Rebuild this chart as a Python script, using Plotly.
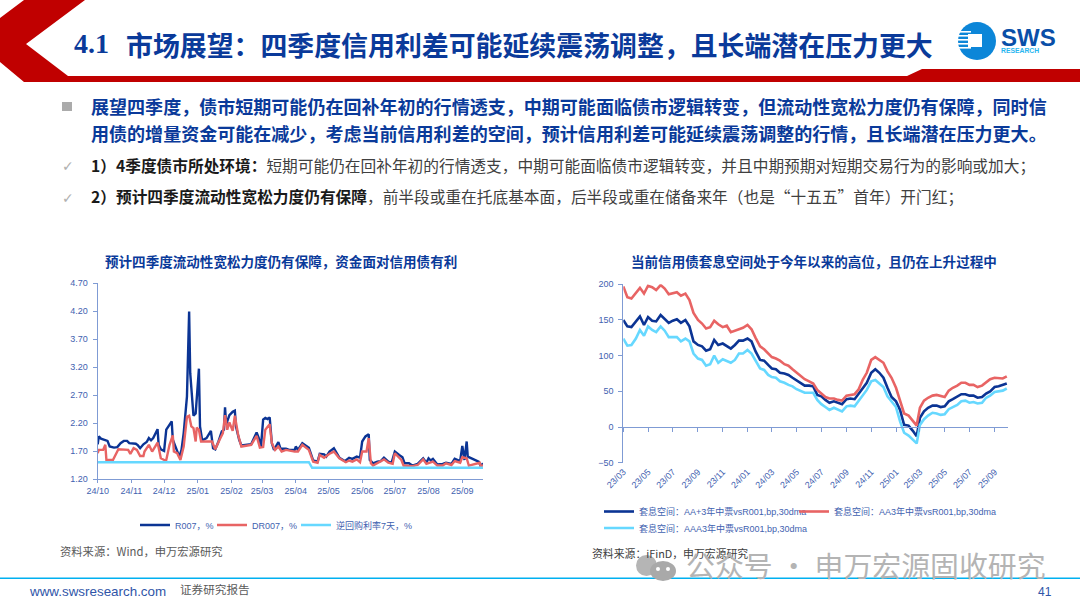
import plotly.graph_objects as go

# ---------- left chart data ----------
R007_DATES = ["2024-10-01","2024-10-02","2024-10-04","2024-10-08","2024-10-10","2024-10-12","2024-10-16","2024-10-19","2024-10-22","2024-10-25","2024-10-28","2024-10-30","2024-11-02","2024-11-05","2024-11-07","2024-11-09","2024-11-12","2024-11-15","2024-11-17","2024-11-19","2024-11-21","2024-11-23","2024-11-25","2024-11-26","2024-11-28","2024-12-01","2024-12-03","2024-12-05","2024-12-08","2024-12-09","2024-12-11","2024-12-13","2024-12-15","2024-12-17","2024-12-19","2024-12-22","2024-12-24","2024-12-25","2024-12-28","2024-12-30","2025-01-02","2025-01-03","2025-01-05","2025-01-09","2025-01-13","2025-01-15","2025-01-17","2025-01-20","2025-01-23","2025-01-25","2025-01-26","2025-01-27","2025-01-30","2025-02-02","2025-02-04","2025-02-05","2025-02-08","2025-02-10","2025-02-19","2025-02-24","2025-02-26","2025-02-28","2025-03-02","2025-03-04","2025-03-06","2025-03-08","2025-03-10","2025-03-12","2025-03-16","2025-03-18","2025-03-23","2025-03-26","2025-03-31","2025-04-01","2025-04-03","2025-04-07","2025-04-13","2025-04-17","2025-04-21","2025-04-23","2025-04-27","2025-04-29","2025-05-02","2025-05-06","2025-05-11","2025-05-16","2025-05-20","2025-05-23","2025-05-27","2025-05-30","2025-06-01","2025-06-04","2025-06-07","2025-06-08","2025-06-11","2025-06-15","2025-06-18","2025-06-21","2025-06-25","2025-06-28","2025-07-01","2025-07-05","2025-07-08","2025-07-10","2025-07-14","2025-07-17","2025-07-22","2025-07-27","2025-07-30","2025-08-01","2025-08-03","2025-08-05","2025-08-09","2025-08-14","2025-08-17","2025-08-22","2025-08-25","2025-08-30","2025-09-01","2025-09-03","2025-09-05","2025-09-06","2025-09-16","2025-09-18","2025-09-20"]
R007_VALUES = [1.82,1.96,1.92,1.89,1.88,1.78,1.76,1.77,1.84,1.88,1.88,1.84,1.84,1.83,1.80,1.75,1.82,1.86,1.93,1.89,1.93,2.00,2.09,1.81,1.73,1.70,2.08,2.14,2.23,1.90,1.81,1.69,1.60,1.72,2.02,2.67,4.19,3.09,2.33,2.37,3.17,2.14,1.89,1.93,2.06,1.75,1.73,1.87,2.05,2.08,2.48,2.17,2.34,2.40,2.42,2.14,1.90,1.80,1.82,2.03,1.93,1.77,2.26,2.29,2.27,2.30,1.84,1.72,1.86,1.74,1.74,1.72,1.72,1.78,1.72,1.84,1.76,1.53,1.51,1.65,1.64,1.60,1.69,1.75,1.58,1.52,1.58,1.56,1.60,1.58,1.87,1.96,2.00,1.54,1.48,1.51,1.52,1.58,1.51,1.49,1.69,1.63,1.59,1.48,1.48,1.44,1.47,1.57,1.49,1.57,1.53,1.56,1.46,1.47,1.49,1.47,1.56,1.52,1.79,1.54,1.87,1.60,1.51,1.43,1.48]

DR007_DATES = ["2024-10-01","2024-10-02","2024-10-06","2024-10-08","2024-10-09","2024-10-15","2024-10-20","2024-10-29","2024-10-31","2024-11-03","2024-11-06","2024-11-09","2024-11-12","2024-11-13","2024-11-17","2024-11-20","2024-11-25","2024-11-28","2024-12-02","2024-12-03","2024-12-06","2024-12-09","2024-12-10","2024-12-13","2024-12-16","2024-12-19","2024-12-22","2024-12-24","2024-12-26","2024-12-28","2024-12-30","2024-12-31","2025-01-02","2025-01-04","2025-01-14","2025-01-17","2025-01-21","2025-01-24","2025-01-26","2025-01-28","2025-01-30","2025-02-02","2025-02-04","2025-02-07","2025-02-10","2025-02-19","2025-02-24","2025-02-27","2025-03-02","2025-03-04","2025-03-08","2025-03-10","2025-03-13","2025-03-16","2025-03-19","2025-03-23","2025-03-31","2025-04-03","2025-04-07","2025-04-13","2025-04-17","2025-04-21","2025-04-23","2025-04-27","2025-05-02","2025-05-06","2025-05-11","2025-05-17","2025-05-20","2025-05-23","2025-05-27","2025-05-30","2025-06-01","2025-06-05","2025-06-07","2025-06-09","2025-06-11","2025-06-15","2025-06-21","2025-06-25","2025-06-29","2025-07-01","2025-07-07","2025-07-09","2025-07-17","2025-07-22","2025-07-27","2025-07-30","2025-08-05","2025-08-09","2025-08-14","2025-08-17","2025-08-22","2025-08-25","2025-08-30","2025-09-01","2025-09-05","2025-09-07","2025-09-17","2025-09-18","2025-09-20"]
DR007_VALUES = [1.66,1.72,1.72,1.81,1.54,1.54,1.73,1.72,1.65,1.75,1.72,1.61,1.61,1.69,1.81,1.69,1.85,1.57,1.53,1.54,1.81,1.98,1.69,1.66,1.54,1.78,2.31,2.33,2.14,2.11,1.87,2.12,2.08,1.87,1.87,1.73,1.90,2.02,2.34,2.08,2.21,2.06,2.33,1.99,1.78,1.81,1.97,1.76,1.77,2.08,2.18,1.84,1.72,1.78,1.69,1.72,1.69,1.69,1.81,1.72,1.51,1.49,1.63,1.58,1.65,1.69,1.57,1.50,1.53,1.51,1.55,1.50,1.69,1.69,1.93,1.48,1.44,1.48,1.55,1.49,1.47,1.66,1.54,1.44,1.43,1.45,1.55,1.47,1.51,1.44,1.44,1.48,1.45,1.52,1.49,1.59,1.57,1.44,1.49,1.42,1.45]

REPO_DATES = ["2024-10-01","2025-04-13","2025-04-16","2025-09-20"]
REPO_VALUES = [1.50,1.50,1.40,1.40]

# ---------- right chart data ----------
SPREAD_DATES = ["2023-03-01","2023-03-11","2023-03-21","2023-04-01","2023-04-11","2023-04-21","2023-05-01","2023-05-11","2023-05-21","2023-06-01","2023-06-11","2023-06-21","2023-07-01","2023-07-11","2023-07-21","2023-08-01","2023-08-11","2023-08-21","2023-09-01","2023-09-11","2023-09-21","2023-10-01","2023-10-11","2023-10-21","2023-11-01","2023-11-11","2023-11-21","2023-12-01","2023-12-11","2023-12-21","2024-01-01","2024-01-11","2024-01-21","2024-02-01","2024-02-11","2024-02-21","2024-03-01","2024-03-11","2024-03-21","2024-04-01","2024-04-11","2024-04-21","2024-05-01","2024-05-11","2024-05-21","2024-06-01","2024-06-11","2024-06-21","2024-07-01","2024-07-11","2024-07-21","2024-08-01","2024-08-11","2024-08-21","2024-09-01","2024-09-11","2024-09-21","2024-10-01","2024-10-11","2024-10-21","2024-11-01","2024-11-11","2024-11-21","2024-12-01","2024-12-11","2024-12-21","2025-01-01","2025-01-11","2025-01-21","2025-02-01","2025-02-11","2025-02-21","2025-03-01","2025-03-11","2025-03-21","2025-04-01","2025-04-11","2025-04-21","2025-05-01","2025-05-11","2025-05-21","2025-06-01","2025-06-11","2025-06-21","2025-07-01","2025-07-11","2025-07-21","2025-08-01","2025-08-11","2025-08-21","2025-09-01","2025-09-11","2025-09-21","2025-10-01"]
AA_PLUS_VALUES = [150,141,140,148,155,143,154,149,148,157,152,146,149,151,146,150,141,120,115,113,107,109,122,115,117,114,110,115,121,121,124,120,106,94,93,87,82,81,76,75,73,69,65,62,58,58,57,45,43,38,34,36,34,32,39,40,39,47,55,62,76,81,76,69,55,42,36,24,3,2,-5,-13,13,22,27,30,30,28,29,36,39,43,46,46,44,44,41,42,47,50,56,57,59,61]
AA_VALUES = [197,182,180,188,195,187,198,196,192,199,194,186,187,189,184,187,178,160,150,145,138,140,149,144,140,142,133,135,138,139,143,137,125,113,109,103,98,96,93,88,86,81,76,72,67,64,61,52,47,42,40,40,38,37,44,45,46,53,66,76,94,98,94,90,78,69,55,36,19,16,9,2,27,37,41,44,45,43,42,51,55,58,62,62,59,59,56,58,62,67,69,68,68,71]
AAA_VALUES = [124,114,115,124,136,128,141,136,133,141,135,126,126,126,120,124,120,103,96,94,86,88,100,90,95,92,90,94,103,103,108,103,92,82,80,73,70,69,64,62,59,57,53,51,48,48,48,38,32,28,24,27,25,22,29,30,29,37,44,52,64,66,61,56,43,36,28,8,-8,-12,-18,-23,3,11,16,20,19,17,18,25,28,31,36,37,34,35,33,34,41,44,49,50,51,54]

Y_TICKS_LEFT = [1.2, 1.7, 2.2, 2.7, 3.2, 3.7, 4.2, 4.7]
Y_TICKS_RIGHT = [-50, 0, 50, 100, 150, 200]

BLUE = "#0a3a9a"
NAVY = "#0b3494"
RED = "#e86464"
CYAN = "#66d8ff"
TICK = "#3f62b0"
AXIS = "#7f9bd4"
W, H = 1080, 608


def px(x):
    return x / W


def py(y):
    return 1 - y / H


fig = go.Figure()
fig.add_trace(go.Scatter(x=R007_DATES, y=R007_VALUES, name="R007，%", mode="lines",
                         line=dict(color=NAVY, width=2.4), xaxis="x", yaxis="y", legend="legend"))
fig.add_trace(go.Scatter(x=DR007_DATES, y=DR007_VALUES, name="DR007，%", mode="lines",
                         line=dict(color=RED, width=2.4), xaxis="x", yaxis="y", legend="legend2"))
fig.add_trace(go.Scatter(x=REPO_DATES, y=REPO_VALUES, name="逆回购利率7天，%", mode="lines",
                         line=dict(color=CYAN, width=2.4), xaxis="x", yaxis="y", legend="legend3"))
fig.add_trace(go.Scatter(x=SPREAD_DATES, y=AA_PLUS_VALUES, name="套息空间：AA+3年中票vsR001,bp,30dma", mode="lines",
                         line=dict(color=NAVY, width=2.6), xaxis="x2", yaxis="y2", legend="legend4"))
fig.add_trace(go.Scatter(x=SPREAD_DATES, y=AA_VALUES, name="套息空间：AA3年中票vsR001,bp,30dma", mode="lines",
                         line=dict(color=RED, width=2.6), xaxis="x2", yaxis="y2", legend="legend5"))
fig.add_trace(go.Scatter(x=SPREAD_DATES, y=AAA_VALUES, name="套息空间：AAA3年中票vsR001,bp,30dma", mode="lines",
                         line=dict(color=CYAN, width=2.6), xaxis="x2", yaxis="y2", legend="legend6"))

FONT = "Noto Sans CJK SC"
tickfont = dict(family="Liberation Sans, Noto Sans CJK SC", size=9, color=TICK)
legendfont = dict(family="Liberation Sans, Noto Sans CJK SC", size=9, color=TICK)

shapes = []


def poly(points, color):
    path = "M " + " L ".join(f"{px(a)} {py(b)}" for a, b in points) + " Z"
    shapes.append(dict(type="path", xref="paper", yref="paper", path=path,
                       fillcolor=color, line=dict(width=0), layer="below"))


def rect(x0, y0, x1, y1, color):
    shapes.append(dict(type="rect", xref="paper", yref="paper", x0=px(x0), x1=px(x1),
                       y0=py(y1), y1=py(y0), fillcolor=color, line=dict(width=0), layer="below"))


def circle(x0, y0, x1, y1, color):
    shapes.append(dict(type="circle", xref="paper", yref="paper", x0=px(x0), x1=px(x1),
                       y0=py(y1), y1=py(y0), fillcolor=color, line=dict(width=0), layer="below"))


# banner
poly([(24, 0), (85, 0), (26, 44), (68, 76), (907, 76), (922, 69), (1080, 69), (1080, 82),
      (24, 82), (0, 62), (0, 18)], "#c00000")
# logo
circle(958, 22, 996, 60, "#0c86d8")
rect(968, 34, 982, 47, "#ffffff")
for yy in (31, 35, 39, 43, 47):
    rect(957, yy, 971, yy + 1.6, "#ffffff")
# bullet + footer rule
rect(62, 102, 72, 111, "#ababab")
rect(0, 577.5, 1080, 579, "#00b0f0")
# watermark icon
circle(636, 555, 657, 576, "#b5b5b5")
circle(650, 561, 676, 581, "#a9a9a9")
circle(656, 567, 660, 571, "#ffffff")
circle(666, 567, 670, 571, "#ffffff")

ann = []


def text(x, y, s, size, color, anchor="left", family=FONT):
    ann.append(dict(xref="paper", yref="paper", x=px(x), y=py(y), text=s, showarrow=False,
                    xanchor=anchor, yanchor="middle", borderpad=0, borderwidth=0,
                    font=dict(family=family, size=size, color=color)))


text(74, 43, "<b>4.1</b>", 28, BLUE, family="Liberation Serif")
text(126, 44, "<b>市场展望：四季度信用利差可能延续震荡调整，且长端潜在压力更大</b>", 26.9, BLUE)
text(1001, 37.5, "<b>SWS</b>", 24, "#0a4fa8", family="Liberation Sans")
text(1001, 51, "<b>RESEARCH</b>", 6.8, "#29b6ef", family="Liberation Sans")
text(90.7, 105.5, "<b>展望四季度，债市短期可能仍在回补年初的行情透支，中期可能面临债市逻辑转变，但流动性宽松力度仍有保障，同时信</b>", 18.05, BLUE)
text(90.7, 132.5, "<b>用债的增量资金可能在减少，考虑当前信用利差的空间，预计信用利差可能延续震荡调整的行情，且长端潜在压力更大。</b>", 18.05, BLUE)
text(62, 166, "✓", 14, "#b0b0b0", family="DejaVu Sans")
text(62, 198, "✓", 14, "#b0b0b0", family="DejaVu Sans")
text(90.7, 165.5, "<b><span style='color:#1a1a1a'>1）4季度债市所处环境：</span></b>短期可能仍在回补年初的行情透支，中期可能面临债市逻辑转变，并且中期预期对短期交易行为的影响或加大；", 15.7, "#404040")
text(90.7, 196.5, "<b><span style='color:#1a1a1a'>2）预计四季度流动性宽松力度仍有保障</span></b>，前半段或重在托底基本面，后半段或重在储备来年（也是“十五五”首年）开门红；", 15.7, "#404040")
text(281, 261, "<b>预计四季度流动性宽松力度仍有保障，资金面对信用债有利</b>", 13.55, BLUE, anchor="center")
text(814, 261, "<b>当前信用债套息空间处于今年以来的高位，且仍在上升过程中</b>", 13.55, BLUE, anchor="center")
text(60, 551, "资料来源：Wind，申万宏源研究", 11.3, "#595959")
text(592, 553, "资料来源：iFinD，申万宏源研究", 10.85, "#404040")
text(686, 564, "公众号 · 申万宏源固收研究", 28.9, "#b4b4b4")
text(29, 591.5, "www.swsresearch.com", 13.4, "#2f55a8", family="Liberation Sans")
text(180, 589, "证券研究报告", 11.6, "#595959")
text(1038, 591.5, "41", 12, "#2f55a8", family="Liberation Sans")


def legend_at(x, y):
    return dict(orientation="h", xanchor="left", yanchor="middle", x=px(x), y=py(y),
                font=legendfont, bgcolor="rgba(0,0,0,0)", itemwidth=30, tracegroupgap=0)


fig.update_layout(
    width=W, height=H, autosize=False, margin=dict(l=0, r=0, t=0, b=0, autoexpand=False),
    paper_bgcolor="white", plot_bgcolor="white", showlegend=True,
    shapes=shapes, annotations=ann,
    xaxis=dict(domain=[px(97.7), px(483)], anchor="y", type="date",
               range=["2024-10-01", "2025-09-20"], tick0="2024-10-01", dtick="M1", tickformat="%y/%m",
               tickangle=0, tickfont=tickfont, showgrid=False, zeroline=False, showline=True, linecolor=AXIS,
               linewidth=1, ticks="outside", ticklen=3, tickcolor=AXIS),
    yaxis=dict(domain=[py(479), py(283)], anchor="x", range=[1.2, 4.7], tickvals=Y_TICKS_LEFT,
               tickformat=".2f", tickfont=tickfont, showgrid=False, zeroline=False, showline=True,
               linecolor=AXIS, linewidth=1, ticks="outside", ticklen=4, tickcolor=AXIS, ticklabelstandoff=3),
    xaxis2=dict(domain=[px(623.3), px(1008)], anchor="free", position=py(427.3), type="date",
                range=["2023-03-01", "2025-10-04"], tick0="2023-03-01", dtick="M2", tickformat="%y/%m",
                tickangle=-45, ticklabelstandoff=31, tickfont=tickfont, showgrid=False, zeroline=False,
                showline=True, linecolor=AXIS, linewidth=1, ticks="outside", ticklen=4, tickcolor=AXIS),
    yaxis2=dict(domain=[py(462.7), py(284.3)], anchor="x2", range=[-50, 200], tickvals=Y_TICKS_RIGHT,
                tickfont=tickfont, showgrid=False, zeroline=False, showline=True, linecolor=AXIS,
                linewidth=1, ticks="outside", ticklen=4, tickcolor=AXIS, ticklabelstandoff=3),
    legend=legend_at(135, 525),
    legend2=legend_at(212, 525),
    legend3=legend_at(296, 525),
    legend4=legend_at(599, 511.5),
    legend5=legend_at(794, 511.5),
    legend6=legend_at(599, 528),
)

fig.write_html("out.html", config={"displayModeBar": False},
               post_script="document.body.style.margin='0';document.documentElement.style.overflow='hidden';")
